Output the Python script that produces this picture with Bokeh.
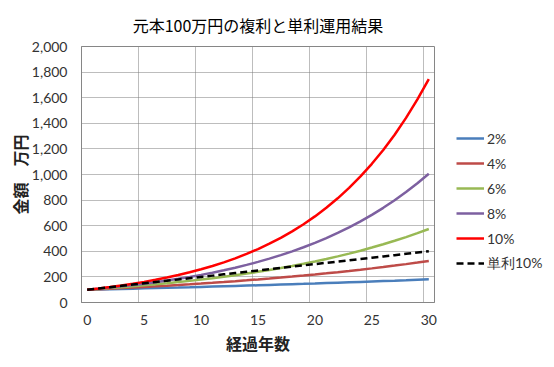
from bokeh.plotting import figure
from bokeh.layouts import row
from bokeh.models import (Range1d, FixedTicker, NumeralTickFormatter, Legend, LegendItem, Spacer)
from bokeh.embed import file_html
from bokeh.resources import INLINE

# ---- data (万円) ----
years = list(range(0, 31))
rate_2 = [100, 102, 104.04, 106.12, 108.24, 110.41, 112.62, 114.87, 117.17, 119.51, 121.90,
          124.34, 126.82, 129.36, 131.95, 134.59, 137.28, 140.02, 142.82, 145.68, 148.59,
          151.57, 154.60, 157.69, 160.84, 164.06, 167.34, 170.69, 174.10, 177.58, 181.14]
rate_4 = [100, 104, 108.16, 112.49, 116.99, 121.67, 126.53, 131.59, 136.86, 142.33, 148.02,
          153.95, 160.10, 166.51, 173.17, 180.09, 187.30, 194.79, 202.58, 210.68, 219.11,
          227.88, 236.99, 246.47, 256.33, 266.58, 277.25, 288.34, 299.87, 311.87, 324.34]
rate_6 = [100, 106, 112.36, 119.10, 126.25, 133.82, 141.85, 150.36, 159.38, 168.95, 179.08,
          189.83, 201.22, 213.29, 226.09, 239.66, 254.04, 269.28, 285.43, 302.56, 320.71,
          339.96, 360.35, 381.97, 404.89, 429.19, 454.94, 482.23, 511.17, 541.84, 574.35]
rate_8 = [100, 108, 116.64, 125.97, 136.05, 146.93, 158.69, 171.38, 185.09, 199.90, 215.89,
          233.16, 251.82, 271.96, 293.72, 317.22, 342.59, 370.00, 399.60, 431.57, 466.10,
          503.38, 543.65, 587.15, 634.12, 684.85, 739.64, 798.81, 862.71, 931.73, 1006.27]
rate_10 = [100, 110, 121, 133.1, 146.41, 161.05, 177.16, 194.87, 214.36, 235.79, 259.37,
           285.31, 313.84, 345.23, 379.75, 417.72, 459.50, 505.45, 555.99, 611.59, 672.75,
           740.02, 814.03, 895.43, 984.97, 1083.47, 1191.82, 1311.00, 1442.10, 1586.31, 1744.94]
simple_10 = [100, 110, 120, 130, 140, 150, 160, 170, 180, 190, 200,
             210, 220, 230, 240, 250, 260, 270, 280, 290, 300,
             310, 320, 330, 340, 350, 360, 370, 380, 390, 400]

series_names = ["2%", "4%", "6%", "8%", "10%", "単利10%"]
series_values = [rate_2, rate_4, rate_6, rate_8, rate_10, simple_10]
series_colors = ["#4A7EBB", "#BE4B48", "#98B954", "#7D60A0", "#FF0000", "#000000"]
series_dash = ["solid", "solid", "solid", "solid", "solid", "7 4"]

x_ticks = [0, 5, 10, 15, 20, 25, 30]
y_ticks = [0, 200, 400, 600, 800, 1000, 1200, 1400, 1600, 1800, 2000]

title_text = "元本100万円の複利と単利運用結果"
x_label = "経過年数"
y_label = "金額　万円"

JP = "Noto Sans CJK JP"
NUM = "Lato"

p = figure(frame_width=353, frame_height=256, output_backend="svg", toolbar_location=None,
           x_range=Range1d(-0.5, 30.5), y_range=Range1d(0, 2000),
           min_border_left=0, min_border_right=0, min_border_top=0, min_border_bottom=0,
           title=title_text)
p.background_fill_color = "white"
p.border_fill_color = "white"
p.outline_line_color = "#868686"
p.outline_line_width = 1

p.title.align = "center"
p.title.text_font = JP
p.title.text_font_size = "16px"
p.title.text_font_style = "normal"
p.title.text_color = "#000000"
p.title.standoff = 20

# axes
p.xaxis.ticker = FixedTicker(ticks=x_ticks)
p.yaxis.ticker = FixedTicker(ticks=y_ticks)
p.yaxis.formatter = NumeralTickFormatter(format="0,0")
for ax in (p.xaxis[0], p.yaxis[0]):
    ax.major_tick_line_color = None
    ax.minor_tick_line_color = None
    ax.major_tick_out = 0
    ax.major_tick_in = 0
    ax.axis_line_color = "#868686"
    ax.major_label_text_font = NUM
    ax.major_label_text_font_size = "14px"
    ax.major_label_text_color = "#333333"
    ax.axis_label_text_font = JP
    ax.axis_label_text_font_size = "16px"
    ax.axis_label_text_font_style = "bold"
    ax.axis_label_text_color = "#222222"
p.xaxis.major_label_standoff = 12
p.yaxis.major_label_standoff = 14
p.xaxis.axis_label = x_label
p.yaxis.axis_label = y_label
p.xaxis.axis_label_standoff = 3
p.yaxis.axis_label_standoff = -3

# grid
p.xgrid.ticker = FixedTicker(ticks=[4.5, 9.5, 14.5, 19.5, 24.5, 29.5])
for g in (p.xgrid[0], p.ygrid[0]):
    g.grid_line_color = "#7a7a7a"
    g.grid_line_dash = "1 1"
    g.grid_line_width = 1

items = []
for name, vals, col, dash in zip(series_names, series_values, series_colors, series_dash):
    r = p.line(years, vals, line_color=col, line_width=2.5, line_dash=dash)
    items.append(LegendItem(label=name, renderers=[r]))

legend = Legend(items=items, location=(22, 29))
legend.border_line_color = None
legend.background_fill_alpha = 0
legend.padding = 0
legend.margin = 0
legend.spacing = 5
legend.glyph_width = 28
legend.glyph_height = 20
legend.label_height = 20
legend.label_standoff = 3
legend.label_text_font = NUM
legend.label_text_font_size = "14px"
legend.label_text_color = "#333333"
p.add_layout(legend, "right")

page = row(Spacer(width=4, height=10), p)
open("out.html", "w").write(file_html(page, INLINE))
